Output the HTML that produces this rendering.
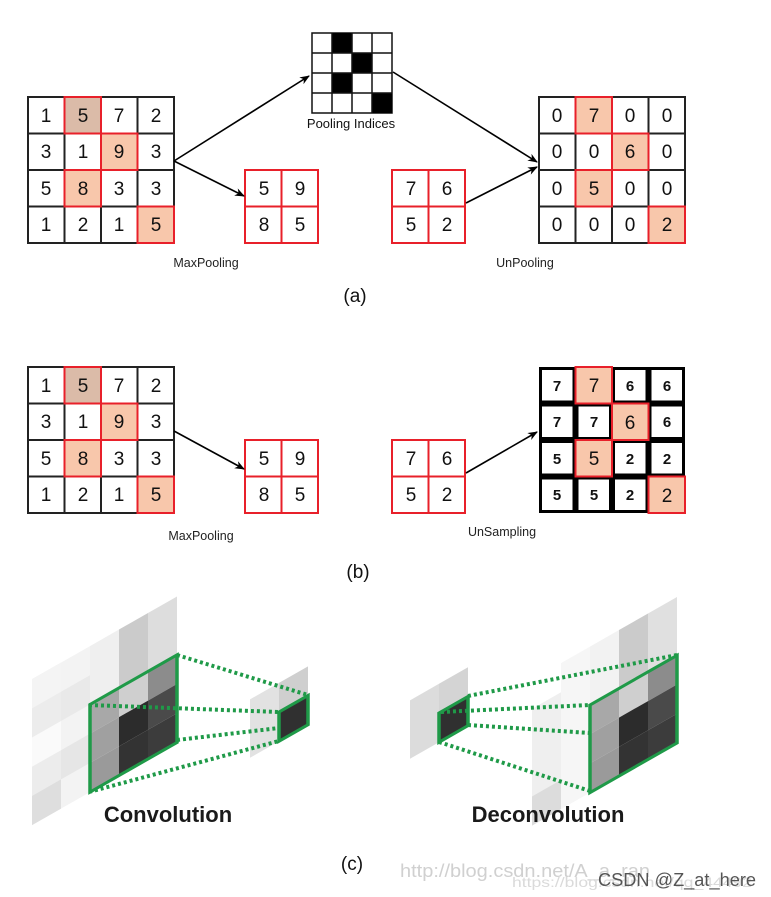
<!DOCTYPE html>
<html><head><meta charset="utf-8"><style>
html,body{margin:0;padding:0;background:#fff;width:771px;height:897px;overflow:hidden;}
svg{display:block;overflow:hidden;}
text{font-family:"Liberation Sans",sans-serif;}
</style></head><body>
<svg width="771" height="897" viewBox="0 0 771 897" xmlns="http://www.w3.org/2000/svg">
<defs>
<marker id="ar" markerWidth="10" markerHeight="8" refX="9" refY="4" orient="auto" markerUnits="userSpaceOnUse">
<path d="M0,0 L10,4 L0,8 L3,4 Z" fill="#000"/>
</marker>
</defs>

<!-- ===== (a) ===== -->
<g font-size="19" text-anchor="middle" fill="#111">
<rect x="28" y="97" width="146" height="146" fill="#fff" stroke="#222" stroke-width="2"/>
<rect x="64.5" y="97" width="36.5" height="36.5" fill="#dbbba8"/>
<rect x="101" y="133.5" width="36.5" height="36.5" fill="#f8c7ab"/>
<rect x="64.5" y="170" width="36.5" height="36.5" fill="#f8c7ab"/>
<rect x="137.5" y="206.5" width="36.5" height="36.5" fill="#f8c7ab"/>
<g stroke="#222" stroke-width="2">
<line x1="64.5" y1="97" x2="64.5" y2="243"/><line x1="101" y1="97" x2="101" y2="243"/><line x1="137.5" y1="97" x2="137.5" y2="243"/>
<line x1="28" y1="133.5" x2="174" y2="133.5"/><line x1="28" y1="170" x2="174" y2="170"/><line x1="28" y1="206.5" x2="174" y2="206.5"/>
</g>
<g stroke="#e8202a" stroke-width="2" fill="none">
<rect x="64.5" y="97" width="36.5" height="36.5"/><rect x="101" y="133.5" width="36.5" height="36.5"/>
<rect x="64.5" y="170" width="36.5" height="36.5"/><rect x="137.5" y="206.5" width="36.5" height="36.5"/>
</g>
<text x="46" y="122">1</text><text x="83" y="122">5</text><text x="119" y="122">7</text><text x="156" y="122">2</text>
<text x="46" y="158">3</text><text x="83" y="158">1</text><text x="119" y="158">9</text><text x="156" y="158">3</text>
<text x="46" y="195">5</text><text x="83" y="195">8</text><text x="119" y="195">3</text><text x="156" y="195">3</text>
<text x="46" y="231">1</text><text x="83" y="231">2</text><text x="119" y="231">1</text><text x="156" y="231">5</text>

<rect x="312" y="33" width="80" height="80" fill="#fff" stroke="#111" stroke-width="1.5"/>
<rect x="332" y="33" width="20" height="20" fill="#000"/>
<rect x="352" y="53" width="20" height="20" fill="#000"/>
<rect x="332" y="73" width="20" height="20" fill="#000"/>
<rect x="372" y="93" width="20" height="20" fill="#000"/>
<g stroke="#111" stroke-width="1.5">
<line x1="332" y1="33" x2="332" y2="113"/><line x1="352" y1="33" x2="352" y2="113"/><line x1="372" y1="33" x2="372" y2="113"/>
<line x1="312" y1="53" x2="392" y2="53"/><line x1="312" y1="73" x2="392" y2="73"/><line x1="312" y1="93" x2="392" y2="93"/>
</g>
<text x="351" y="128" font-size="13">Pooling Indices</text>

<g stroke="#e8202a" stroke-width="2" fill="none">
<rect x="245" y="170" width="73" height="73"/><line x1="281.5" y1="170" x2="281.5" y2="243"/><line x1="245" y1="206.5" x2="318" y2="206.5"/>
<rect x="392" y="170" width="73" height="73"/><line x1="428.5" y1="170" x2="428.5" y2="243"/><line x1="392" y1="206.5" x2="465" y2="206.5"/>
</g>
<text x="264" y="195">5</text><text x="300" y="195">9</text><text x="264" y="231">8</text><text x="300" y="231">5</text>
<text x="411" y="195">7</text><text x="447" y="195">6</text><text x="411" y="231">5</text><text x="447" y="231">2</text>

<rect x="539" y="97" width="146" height="146" fill="#fff" stroke="#222" stroke-width="2"/>
<rect x="575.5" y="97" width="36.5" height="36.5" fill="#f8c7ab"/>
<rect x="612" y="133.5" width="36.5" height="36.5" fill="#f8c7ab"/>
<rect x="575.5" y="170" width="36.5" height="36.5" fill="#f8c7ab"/>
<rect x="648.5" y="206.5" width="36.5" height="36.5" fill="#f8c7ab"/>
<g stroke="#222" stroke-width="2">
<line x1="575.5" y1="97" x2="575.5" y2="243"/><line x1="612" y1="97" x2="612" y2="243"/><line x1="648.5" y1="97" x2="648.5" y2="243"/>
<line x1="539" y1="133.5" x2="685" y2="133.5"/><line x1="539" y1="170" x2="685" y2="170"/><line x1="539" y1="206.5" x2="685" y2="206.5"/>
</g>
<g stroke="#e8202a" stroke-width="2" fill="none">
<rect x="575.5" y="97" width="36.5" height="36.5"/><rect x="612" y="133.5" width="36.5" height="36.5"/>
<rect x="575.5" y="170" width="36.5" height="36.5"/><rect x="648.5" y="206.5" width="36.5" height="36.5"/>
</g>
<text x="557" y="122">0</text><text x="594" y="122">7</text><text x="630" y="122">0</text><text x="667" y="122">0</text>
<text x="557" y="158">0</text><text x="594" y="158">0</text><text x="630" y="158">6</text><text x="667" y="158">0</text>
<text x="557" y="195">0</text><text x="594" y="195">5</text><text x="630" y="195">0</text><text x="667" y="195">0</text>
<text x="557" y="231">0</text><text x="594" y="231">0</text><text x="630" y="231">0</text><text x="667" y="231">2</text>
</g>
<g stroke="#000" stroke-width="1.6" fill="none" marker-end="url(#ar)">
<line x1="174" y1="161" x2="309" y2="76"/>
<line x1="174" y1="161" x2="244" y2="196"/>
<line x1="393" y1="72" x2="537" y2="162"/>
<line x1="466" y1="203" x2="537" y2="167"/>
</g>
<text x="206" y="267" font-size="12.5" text-anchor="middle" fill="#222" font-family="DejaVu Sans">MaxPooling</text>
<text x="525" y="267" font-size="12.5" text-anchor="middle" fill="#222" font-family="DejaVu Sans">UnPooling</text>
<text x="355" y="302" font-size="19" text-anchor="middle" fill="#111" font-family="DejaVu Sans">(a)</text>

<!-- ===== (b) ===== -->
<g font-size="19" text-anchor="middle" fill="#111">
<rect x="28" y="367" width="146" height="146" fill="#fff" stroke="#222" stroke-width="2"/>
<rect x="64.5" y="367" width="36.5" height="36.5" fill="#dbbba8"/>
<rect x="101" y="403.5" width="36.5" height="36.5" fill="#f8c7ab"/>
<rect x="64.5" y="440" width="36.5" height="36.5" fill="#f8c7ab"/>
<rect x="137.5" y="476.5" width="36.5" height="36.5" fill="#f8c7ab"/>
<g stroke="#222" stroke-width="2">
<line x1="64.5" y1="367" x2="64.5" y2="513"/><line x1="101" y1="367" x2="101" y2="513"/><line x1="137.5" y1="367" x2="137.5" y2="513"/>
<line x1="28" y1="403.5" x2="174" y2="403.5"/><line x1="28" y1="440" x2="174" y2="440"/><line x1="28" y1="476.5" x2="174" y2="476.5"/>
</g>
<g stroke="#e8202a" stroke-width="2" fill="none">
<rect x="64.5" y="367" width="36.5" height="36.5"/><rect x="101" y="403.5" width="36.5" height="36.5"/>
<rect x="64.5" y="440" width="36.5" height="36.5"/><rect x="137.5" y="476.5" width="36.5" height="36.5"/>
</g>
<text x="46" y="392">1</text><text x="83" y="392">5</text><text x="119" y="392">7</text><text x="156" y="392">2</text>
<text x="46" y="428">3</text><text x="83" y="428">1</text><text x="119" y="428">9</text><text x="156" y="428">3</text>
<text x="46" y="465">5</text><text x="83" y="465">8</text><text x="119" y="465">3</text><text x="156" y="465">3</text>
<text x="46" y="501">1</text><text x="83" y="501">2</text><text x="119" y="501">1</text><text x="156" y="501">5</text>

<g stroke="#e8202a" stroke-width="2" fill="none">
<rect x="245" y="440" width="73" height="73"/><line x1="281.5" y1="440" x2="281.5" y2="513"/><line x1="245" y1="476.5" x2="318" y2="476.5"/>
<rect x="392" y="440" width="73" height="73"/><line x1="428.5" y1="440" x2="428.5" y2="513"/><line x1="392" y1="476.5" x2="465" y2="476.5"/>
</g>
<text x="264" y="465">5</text><text x="300" y="465">9</text><text x="264" y="501">8</text><text x="300" y="501">5</text>
<text x="411" y="465">7</text><text x="447" y="465">6</text><text x="411" y="501">5</text><text x="447" y="501">2</text>

<g stroke="#000" stroke-width="3" fill="#fff">
<rect x="540.5" y="368.5" width="33.5" height="33.5"/><rect x="613.5" y="368.5" width="33.5" height="33.5"/><rect x="650" y="368.5" width="33.5" height="33.5"/>
<rect x="540.5" y="405" width="33.5" height="33.5"/><rect x="577" y="405" width="33.5" height="33.5"/><rect x="650" y="405" width="33.5" height="33.5"/>
<rect x="540.5" y="441.5" width="33.5" height="33.5"/><rect x="613.5" y="441.5" width="33.5" height="33.5"/><rect x="650" y="441.5" width="33.5" height="33.5"/>
<rect x="540.5" y="478" width="33.5" height="33.5"/><rect x="577" y="478" width="33.5" height="33.5"/><rect x="613.5" y="478" width="33.5" height="33.5"/>
</g>
<g stroke="#e8202a" stroke-width="2" fill="#f8c7ab">
<rect x="575.5" y="367" width="36.5" height="36.5"/><rect x="612" y="403.5" width="36.5" height="36.5"/>
<rect x="575.5" y="440" width="36.5" height="36.5"/><rect x="648.5" y="476.5" width="36.5" height="36.5"/>
</g>
<g font-weight="bold" font-size="15">
<text x="557" y="391">7</text><text x="630" y="391">6</text><text x="667" y="391">6</text>
<text x="557" y="427">7</text><text x="594" y="427">7</text><text x="667" y="427">6</text>
<text x="557" y="464">5</text><text x="630" y="464">2</text><text x="667" y="464">2</text>
<text x="557" y="500">5</text><text x="594" y="500">5</text><text x="630" y="500">2</text>
</g>
<text x="594" y="392">7</text><text x="630" y="429">6</text><text x="594" y="465">5</text><text x="667" y="502">2</text>
</g>
<g stroke="#000" stroke-width="1.6" fill="none" marker-end="url(#ar)">
<line x1="174" y1="431" x2="244" y2="469"/>
<line x1="466" y1="473" x2="537" y2="432"/>
</g>
<text x="201" y="540" font-size="12.5" text-anchor="middle" fill="#222" font-family="DejaVu Sans">MaxPooling</text>
<text x="502" y="536" font-size="12.5" text-anchor="middle" fill="#222" font-family="DejaVu Sans">UnSampling</text>
<text x="358" y="578" font-size="19" text-anchor="middle" fill="#111" font-family="DejaVu Sans">(b)</text>

<!-- ===== (c) ===== -->
<!-- conv big grid -->
<g transform="translate(32,679.15) skewY(-29.7)">
 <rect x="0" y="0" width="29" height="146" fill="#ececec"/>
 <rect x="29" y="0" width="29" height="146" fill="#f3f3f3"/>
 <rect x="58" y="0" width="29" height="58.4" fill="#efefef"/>
 <rect x="87" y="0" width="29" height="58.4" fill="#cbcbcb"/>
 <rect x="116" y="0" width="29" height="58.4" fill="#dddddd"/>
 <rect x="0" y="0" width="29" height="29.2" fill="#f4f4f4"/>
 <rect x="0" y="58.4" width="29" height="29.2" fill="#fafafa"/>
 <rect x="0" y="116.8" width="29" height="29.2" fill="#dedede"/>
 <rect x="29" y="87.6" width="29" height="29.2" fill="#e6e6e6"/>
 <rect x="29" y="29.2" width="29" height="29.2" fill="#e9e9e9"/>
 <rect x="58" y="58.4" width="29" height="29.2" fill="#a8a8a8"/>
 <rect x="87" y="58.4" width="29" height="29.2" fill="#cfcfcf"/>
 <rect x="116" y="58.4" width="29" height="29.2" fill="#8c8c8c"/>
 <rect x="58" y="87.6" width="29" height="29.2" fill="#a0a0a0"/>
 <rect x="87" y="87.6" width="29" height="29.2" fill="#2c2c2c"/>
 <rect x="116" y="87.6" width="29" height="29.2" fill="#4a4a4a"/>
 <rect x="58" y="116.8" width="29" height="29.2" fill="#9a9a9a"/>
 <rect x="87" y="116.8" width="29" height="29.2" fill="#333"/>
 <rect x="116" y="116.8" width="29" height="29.2" fill="#3c3c3c"/>
 <rect x="58" y="58.4" width="87" height="87.6" fill="none" stroke="#1f9a48" stroke-width="3.5"/>
</g>
<!-- conv small -->
<g transform="translate(250,699.4) skewY(-29.7)">
 <rect x="0" y="0" width="29" height="58.4" fill="#e2e2e2"/>
 <rect x="29" y="0" width="29" height="29.2" fill="#cfcfcf"/>
 <rect x="29" y="29.2" width="29" height="29.2" fill="#303030" stroke="#1f9a48" stroke-width="3.5"/>
</g>
<!-- deconv small -->
<g transform="translate(410,700.34) skewY(-29.7)">
 <rect x="0" y="0" width="29" height="58.4" fill="#dcdcdc"/>
 <rect x="29" y="0" width="29" height="29.2" fill="#d4d4d4"/>
 <rect x="29" y="29.2" width="29" height="29.2" fill="#303030" stroke="#1f9a48" stroke-width="3.5"/>
</g>
<!-- deconv big -->
<g transform="translate(532,679.65) skewY(-29.7)">
 <rect x="0" y="29.2" width="29" height="116.8" fill="#efefef"/>
 <rect x="0" y="116.8" width="29" height="29.2" fill="#dcdcdc"/>
 <rect x="29" y="0" width="29" height="146" fill="#f6f6f6"/>
 <rect x="58" y="0" width="29" height="58.4" fill="#f2f2f2"/>
 <rect x="87" y="0" width="29" height="58.4" fill="#cbcbcb"/>
 <rect x="116" y="0" width="29" height="58.4" fill="#e0e0e0"/>
 <rect x="58" y="58.4" width="29" height="29.2" fill="#a8a8a8"/>
 <rect x="87" y="58.4" width="29" height="29.2" fill="#cfcfcf"/>
 <rect x="116" y="58.4" width="29" height="29.2" fill="#8c8c8c"/>
 <rect x="58" y="87.6" width="29" height="29.2" fill="#a0a0a0"/>
 <rect x="87" y="87.6" width="29" height="29.2" fill="#2c2c2c"/>
 <rect x="116" y="87.6" width="29" height="29.2" fill="#4a4a4a"/>
 <rect x="58" y="116.8" width="29" height="29.2" fill="#9a9a9a"/>
 <rect x="87" y="116.8" width="29" height="29.2" fill="#333"/>
 <rect x="116" y="116.8" width="29" height="29.2" fill="#3c3c3c"/>
 <rect x="58" y="58.4" width="87" height="87.6" fill="none" stroke="#1f9a48" stroke-width="3.5"/>
</g>
<g stroke="#1f9a48" stroke-width="4" stroke-dasharray="3 3" fill="none">
<line x1="177" y1="655" x2="308" y2="695"/>
<line x1="89" y1="705" x2="279" y2="712"/>
<line x1="177" y1="740" x2="279" y2="728"/>
<line x1="89" y1="792" x2="279" y2="741"/>
<line x1="468" y1="696" x2="677" y2="655"/>
<line x1="441" y1="712" x2="590" y2="705"/>
<line x1="468" y1="725" x2="590" y2="733"/>
<line x1="439" y1="742" x2="590" y2="791"/>
</g>
<text x="168" y="822" font-size="22" font-weight="bold" text-anchor="middle" fill="#1a1a1a">Convolution</text>
<text x="548" y="822" font-size="22" font-weight="bold" text-anchor="middle" fill="#1a1a1a">Deconvolution</text>
<text x="352" y="870" font-size="19" text-anchor="middle" fill="#111" font-family="DejaVu Sans">(c)</text>
<text x="400" y="877" font-size="18" fill="#d0d0d0" font-family="Liberation Mono" textLength="250" lengthAdjust="spacingAndGlyphs">http://blog.csdn.net/A_a_ran</text>
<text x="512" y="887" font-size="14" fill="#dadada" textLength="240" lengthAdjust="spacingAndGlyphs">https://blog.csdn.net/qq_44492</text>
<text x="598" y="886" font-size="18" fill="#555" textLength="158" lengthAdjust="spacingAndGlyphs">CSDN @Z_at_here</text>
</svg>
</body></html>
